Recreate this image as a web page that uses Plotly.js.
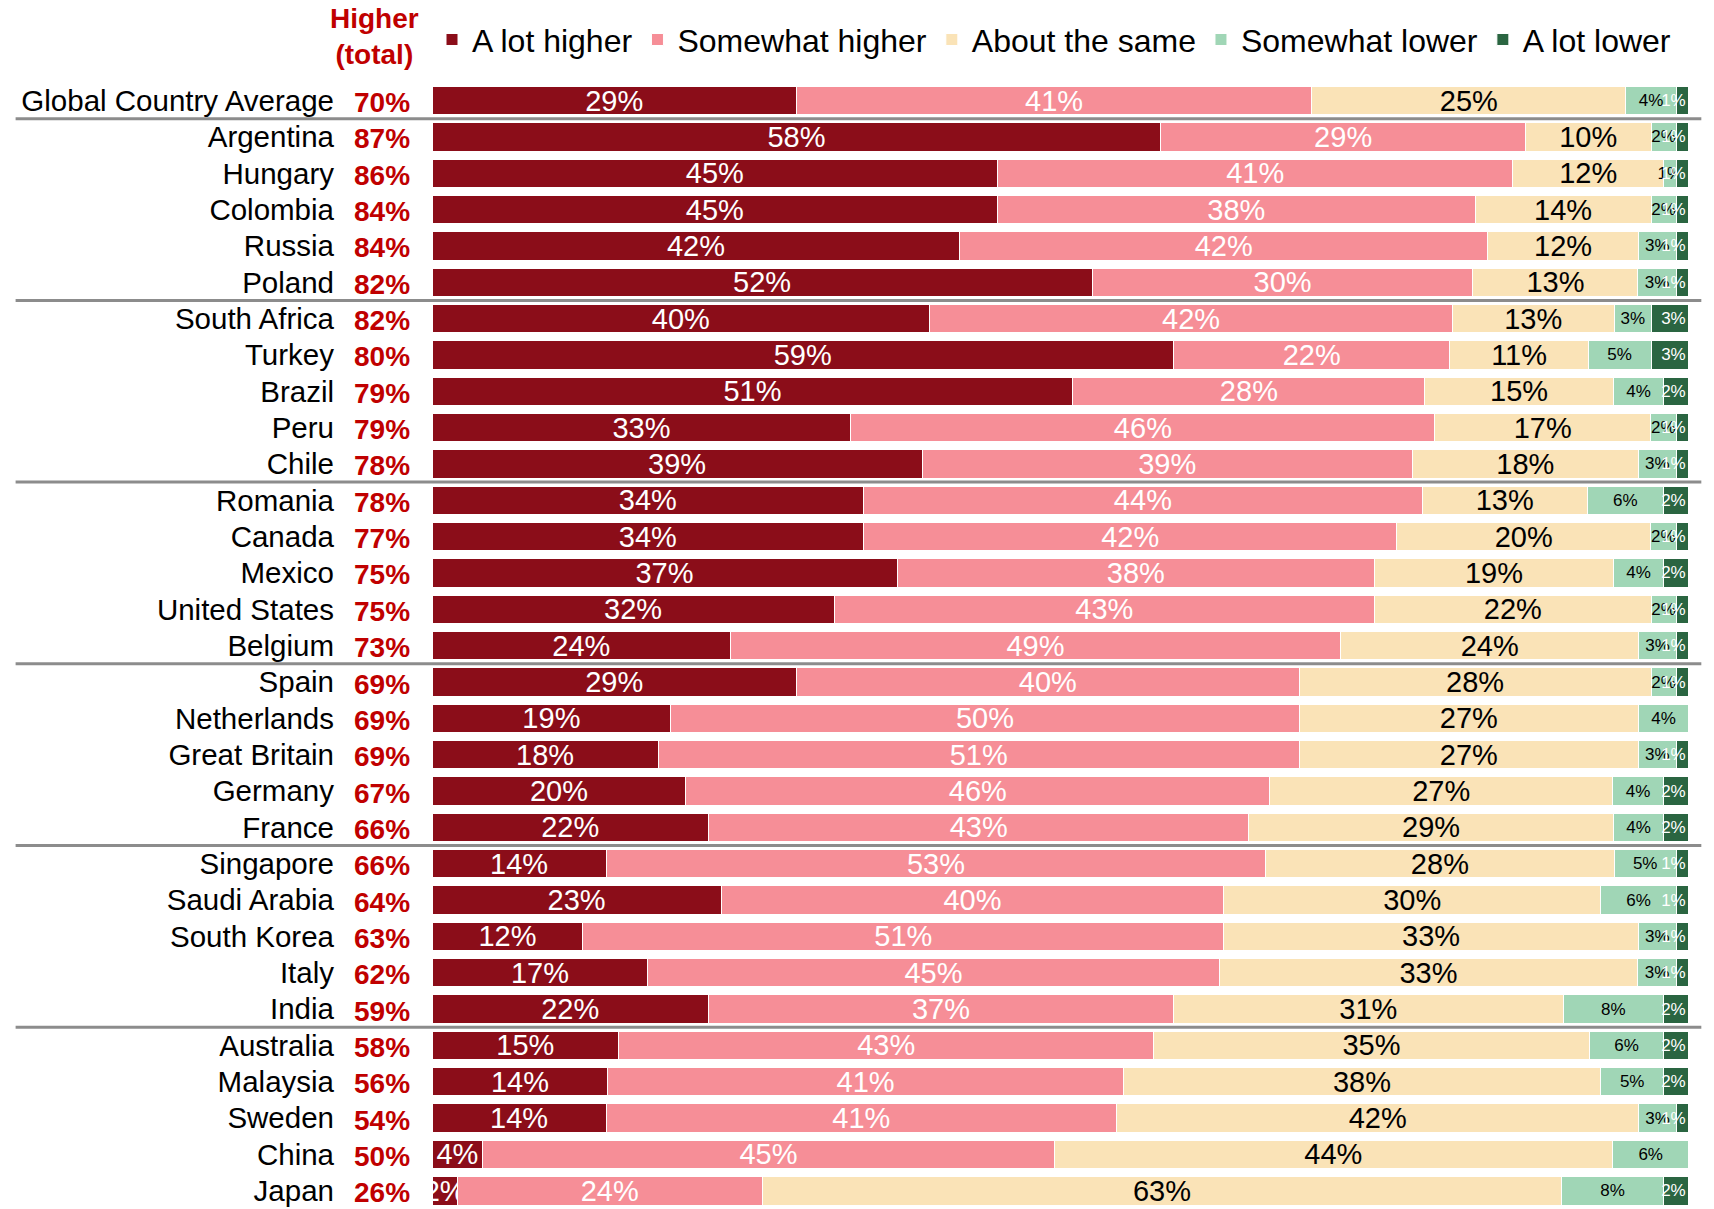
<!DOCTYPE html>
<html>
<head>
<meta charset="utf-8">
<script src="https://cdn.plot.ly/plotly-3.0.1.min.js"></script>
<style>
  html, body { margin: 0; padding: 0; background: #ffffff; }
  #chart { width: 1714px; height: 1209px; }
</style>
</head>
<body>
<div id="chart"></div>
<script>
const countries = ["Global Country Average","Argentina","Hungary","Colombia","Russia","Poland",
  "South Africa","Turkey","Brazil","Peru","Chile",
  "Romania","Canada","Mexico","United States","Belgium",
  "Spain","Netherlands","Great Britain","Germany","France",
  "Singapore","Saudi Arabia","South Korea","Italy","India",
  "Australia","Malaysia","Sweden","China","Japan"];
const higherTotal = [70,87,86,84,84,82, 82,80,79,79,78, 78,77,75,75,73, 69,69,69,67,66, 66,64,63,62,59, 58,56,54,50,26];
const aLotHigher = [29,58,45,45,42,52, 40,59,51,33,39, 34,34,37,32,24, 29,19,18,20,22, 14,23,12,17,22, 15,14,14,4,2];
const somewhatHigher = [41,29,41,38,42,30, 42,22,28,46,39, 44,42,38,43,49, 40,50,51,46,43, 53,40,51,45,37, 43,41,41,45,24];
const aboutSame = [25,10,12,14,12,13, 13,11,15,17,18, 13,20,19,22,24, 28,27,27,27,29, 28,30,33,33,31, 35,38,42,44,63];
const somewhatLower = [4,2,1,2,3,3, 3,5,4,2,3, 6,2,4,2,3, 2,4,3,4,4, 5,6,3,3,8, 6,5,3,6,8];
const aLotLower = [1,1,1,1,1,1, 3,3,2,1,1, 2,1,2,1,1, 1,0,1,2,2, 1,1,1,1,2, 2,2,1,0,2];
const seriesNames = ["A lot higher","Somewhat higher","About the same","Somewhat lower","A lot lower"];
const separatorsAfter = [0,5,10,15,20,25];

const FONT = "'Liberation Sans', Arial, sans-serif";
const colors = ["#8B0D19","#F68E97","#FAE3B7","#A0D6B6","#2A6541"];
const textColors = ["#ffffff","#ffffff","#000000","#000000","#ffffff"];
const textSizes = [29,29,29,17,17];
const anchors = ["middle","middle","middle","middle","end"];
const clipText = [true,true,true,false,false];
const allSeries = [aLotHigher, somewhatHigher, aboutSame, somewhatLower, aLotLower];

const traces = allSeries.map((vals, i) => ({
  type: "bar",
  orientation: "h",
  name: seriesNames[i],
  y: countries,
  x: vals,
  text: vals.map(v => v > 0 ? v + "%" : ""),
  texttemplate: "%{text}",
  textposition: "inside",
  insidetextanchor: anchors[i],
  constraintext: "none",
  cliponaxis: clipText[i],
  textangle: 0,
  textfont: { family: FONT, size: textSizes[i], color: textColors[i] },
  marker: { color: colors[i], line: { color: "#ffffff", width: 1 } },
  hoverinfo: "skip"
}));

const annotations = countries.map((c, i) => ({
  xref: "paper", yref: "y", x: 0, y: c,
  xanchor: "right", yanchor: "middle", xshift: -20, yshift: -2,
  text: "<b>" + higherTotal[i] + "%</b>",
  showarrow: false,
  font: { family: FONT, size: 28, color: "#C00000" }
}));
annotations.push({
  xref: "paper", yref: "paper", x: 0, y: 1, xanchor: "center", yanchor: "top",
  xshift: -58, yshift: 80,
  text: "<b>Higher<br>(total)</b>", showarrow: false, align: "center",
  font: { family: FONT, size: 28, color: "#C00000" }
});

const shapes = separatorsAfter.map(k => ({
  type: "line", xref: "paper", yref: "y",
  x0: -0.331, x1: 1.009, y0: k + 0.5, y1: k + 0.5,
  line: { color: "#8C8C8C", width: 3 }
}));

const layout = {
  width: 1714, height: 1209,
  margin: { l: 432, r: 24, t: 81, b: 0 },
  paper_bgcolor: "#ffffff", plot_bgcolor: "#ffffff",
  barmode: "stack",
  barnorm: "percent",
  bargap: 0.22,
  font: { family: FONT, size: 29, color: "#000000" },
  xaxis: { range: [0, 100.1], visible: false, fixedrange: true },
  yaxis: {
    type: "category",
    categoryorder: "array", categoryarray: countries,
    autorange: "reversed",
    showgrid: false, zeroline: false, showline: false,
    ticks: "", ticklabelstandoff: 97,
    tickfont: { family: FONT, size: 29.5, color: "#000000" }
  },
  showlegend: true,
  legend: {
    orientation: "h", x: 0, xanchor: "left", y: 1.061, yanchor: "top",
    yref: "paper",
    font: { family: FONT, size: 32, color: "#000000" },
    traceorder: "normal",
    itemwidth: 30
  },
  annotations: annotations,
  shapes: shapes
};

Plotly.newPlot("chart", traces, layout, { displayModeBar: false, staticPlot: true });
</script>
</body>
</html>
